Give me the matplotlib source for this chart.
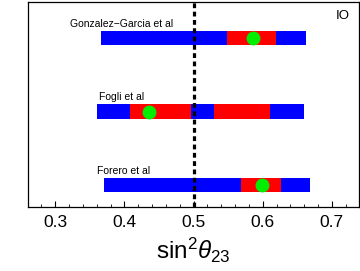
import matplotlib
matplotlib.use("Agg")
import matplotlib.pyplot as plt
from matplotlib.ticker import MultipleLocator

plt.rcParams['font.family'] = ['Liberation Sans', 'DejaVu Sans']
plt.rcParams['mathtext.fontset'] = 'custom'
plt.rcParams['mathtext.rm'] = 'Liberation Sans'
plt.rcParams['mathtext.it'] = 'Liberation Sans:italic'

studies = ["Gonzalez\u2212Garcia et al", "Fogli et al", "Forero et al"]
rows = [3, 2, 1]
blue_ranges = [(0.366, 0.662), (0.361, 0.659), (0.371, 0.669)]
red_ranges = [[(0.549, 0.619)], [(0.408, 0.496), (0.529, 0.610)], [(0.568, 0.626)]]
best_fit = [0.586, 0.436, 0.599]
label_x = [0.322, 0.364, 0.3605]
maximal = 0.5

fig = plt.figure(figsize=(3.6, 2.71), dpi=100)
ax = fig.add_axes([0.0764, 0.236, 0.9206, 0.7566])

h = 0.197
for y, br, rr, bf, name, lx in zip(rows, blue_ranges, red_ranges, best_fit, studies, label_x):
    ax.barh(y, br[1] - br[0], left=br[0], height=h, color='#0000ff', zorder=2)
    for r in rr:
        ax.barh(y, r[1] - r[0], left=r[0], height=h, color='#ff0000', zorder=3)
    ax.plot(bf, y, 'o', color='#00ee00', markersize=10, markeredgewidth=0, zorder=4)
    ax.text(lx, y + 0.195, name, fontsize=7.5, ha='left', va='center', color='black')

ax.axvline(maximal, color='black', lw=2.3, linestyle=(0, (1.5, 1.1)), zorder=5)
ax.text(0.716, 3.3, 'IO', fontsize=9.5, ha='center', va='center')

ax.set_xlim(0.26, 0.739)
ax.set_ylim(0.70, 3.494)
ax.set_yticks([])
ax.xaxis.set_minor_locator(MultipleLocator(0.02))
ax.set_xticks([0.3, 0.4, 0.5, 0.6, 0.7])
ax.set_xticklabels(['0.3', '0.4', '0.5', '0.6', '0.7'])
ax.tick_params(axis='x', which='major', direction='in', length=4, width=0.8, labelsize=12.5, pad=6)
ax.tick_params(axis='x', which='minor', direction='in', length=2.5, width=0.6)
for s in ax.spines.values():
    s.set_linewidth(0.9)
ax.set_xlabel(r'sin$^2\theta_{23}$', fontsize=17.5, labelpad=4)

fig.savefig('out.png', dpi=100)
